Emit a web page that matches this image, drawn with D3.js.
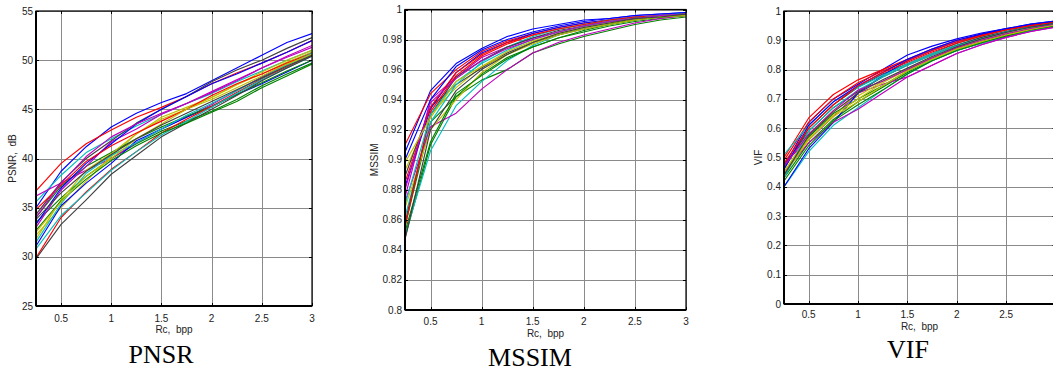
<!DOCTYPE html>
<html>
<head>
<meta charset="utf-8">
<script src="https://cdn.jsdelivr.net/npm/d3@7"></script>
<style>
  html, body { margin: 0; padding: 0; background: #fff; }
  svg { display: block; }
  .tick-label { font-family: "Liberation Sans Narrow", "Arial Narrow", "Liberation Sans", Arial, sans-serif; font-size: 10px; fill: #222; }
  .axis-label { font-family: "Liberation Sans Narrow", "Arial Narrow", "Liberation Sans", Arial, sans-serif; font-size: 10px; fill: #222; }
  .title { font-family: "Liberation Serif", "Times New Roman", serif; font-size: 26px; fill: #000; }
</style>
</head>
<body>
<div id="chart"></div>
<script>
// ---------- data ----------
const rates = [0.25, 0.5, 0.75, 1, 1.25, 1.5, 1.75, 2, 2.25, 2.5, 2.75, 3];
const seriesColors = ["#0000ff", "#008000", "#ff0000", "#00bfbf", "#bf00bf", "#bfbf00", "#404040"];

const xTicks = [0.5, 1, 1.5, 2, 2.5, 3];
const psnrTicks = [25, 30, 35, 40, 45, 50, 55];
const mssimTicks = [0.8, 0.82, 0.84, 0.86, 0.88, 0.9, 0.92, 0.94, 0.96, 0.98, 1];
const vifTicks = [0, 0.1, 0.2, 0.3, 0.4, 0.5, 0.6, 0.7, 0.8, 0.9, 1];

const psnrSeries = [
  [35.0, 38.7, 41.2, 43.2, 44.6, 45.7, 46.6, 47.9, 49.2, 50.5, 51.8, 52.7],
  [33.5, 36.0, 38.2, 40.0, 41.5, 42.8, 43.8, 44.8, 46.0, 47.4, 48.6, 49.7],
  [36.7, 39.5, 41.5, 42.9, 44.2, 45.2, 46.3, 47.6, 48.7, 49.7, 50.8, 52.0],
  [35.6, 38.3, 40.6, 42.0, 43.3, 44.5, 45.6, 46.6, 47.8, 48.9, 50.0, 51.0],
  [36.2, 37.5, 38.8, 40.0, 41.6, 43.0, 44.2, 45.5, 46.9, 48.3, 49.6, 50.8],
  [32.2, 35.0, 37.7, 40.2, 42.5, 44.0, 45.0, 46.2, 47.5, 48.6, 49.8, 50.8],
  [34.3, 37.6, 40.0, 41.8, 43.6, 45.0, 46.3, 47.8, 49.0, 50.0, 51.2, 52.3],
  [31.1, 35.2, 37.5, 39.5, 41.8, 43.0, 44.2, 45.3, 46.5, 47.6, 48.8, 50.0],
  [34.0, 37.2, 39.2, 40.6, 42.0, 43.2, 44.3, 45.3, 46.5, 47.7, 48.9, 50.0],
  [29.9, 34.0, 36.6, 38.9, 40.7, 42.6, 44.0, 45.3, 46.7, 48.1, 49.3, 50.5],
  [30.8, 34.2, 36.5, 38.8, 40.7, 42.4, 43.8, 45.2, 46.6, 48.0, 49.2, 50.4],
  [33.0, 36.8, 39.2, 41.7, 43.0, 44.5, 45.6, 46.8, 48.0, 49.2, 50.4, 51.5],
  [31.8, 35.8, 38.8, 40.5, 42.5, 44.2, 45.2, 46.2, 47.5, 48.8, 50.0, 51.0],
  [29.8, 33.3, 35.8, 38.4, 40.3, 42.2, 43.6, 45.0, 46.4, 47.9, 49.2, 50.4],
  [33.3, 37.0, 39.5, 41.5, 43.5, 45.0, 46.3, 47.6, 48.6, 49.7, 50.8, 52.0],
  [32.7, 35.7, 37.9, 39.8, 41.3, 42.6, 43.6, 44.7, 45.8, 47.2, 48.4, 49.6],
  [34.8, 37.3, 39.7, 41.3, 42.6, 43.8, 45.0, 46.4, 47.6, 48.6, 49.7, 50.7],
  [31.5, 35.4, 38.5, 40.3, 41.6, 43.0, 44.4, 45.6, 46.9, 48.2, 49.5, 50.7],
  [34.0, 37.5, 40.2, 42.2, 43.5, 44.6, 45.6, 46.7, 47.9, 49.2, 50.3, 51.3],
  [32.5, 35.6, 38.2, 40.0, 42.0, 43.5, 45.0, 46.0, 47.2, 48.4, 49.6, 50.6],
  [33.8, 36.5, 38.7, 40.4, 42.0, 43.4, 44.6, 45.8, 47.0, 48.2, 49.4, 50.5]
];

const mssimSeries = [
  [0.905, 0.946, 0.964, 0.974, 0.982, 0.987, 0.990, 0.993, 0.994, 0.996, 0.997, 0.998],
  [0.848, 0.910, 0.942, 0.953, 0.960, 0.971, 0.977, 0.982, 0.986, 0.990, 0.993, 0.995],
  [0.910, 0.944, 0.960, 0.972, 0.979, 0.984, 0.988, 0.991, 0.993, 0.995, 0.996, 0.997],
  [0.850, 0.906, 0.936, 0.952, 0.966, 0.976, 0.983, 0.988, 0.991, 0.994, 0.996, 0.997],
  [0.875, 0.940, 0.955, 0.968, 0.975, 0.981, 0.985, 0.989, 0.992, 0.994, 0.996, 0.997],
  [0.893, 0.930, 0.948, 0.962, 0.972, 0.979, 0.984, 0.988, 0.991, 0.994, 0.995, 0.996],
  [0.889, 0.935, 0.950, 0.961, 0.971, 0.978, 0.983, 0.987, 0.990, 0.993, 0.995, 0.996],
  [0.882, 0.934, 0.958, 0.971, 0.978, 0.984, 0.988, 0.991, 0.993, 0.995, 0.996, 0.998],
  [0.856, 0.925, 0.942, 0.957, 0.968, 0.975, 0.981, 0.985, 0.989, 0.992, 0.994, 0.996],
  [0.885, 0.935, 0.958, 0.970, 0.978, 0.983, 0.987, 0.990, 0.992, 0.994, 0.996, 0.997],
  [0.862, 0.925, 0.950, 0.965, 0.975, 0.982, 0.987, 0.990, 0.993, 0.995, 0.996, 0.998],
  [0.872, 0.922, 0.931, 0.947, 0.960, 0.971, 0.978, 0.983, 0.987, 0.991, 0.994, 0.996],
  [0.868, 0.920, 0.940, 0.958, 0.970, 0.978, 0.984, 0.988, 0.991, 0.993, 0.995, 0.996],
  [0.858, 0.930, 0.955, 0.966, 0.975, 0.981, 0.986, 0.989, 0.992, 0.994, 0.996, 0.997],
  [0.900, 0.940, 0.962, 0.973, 0.980, 0.985, 0.989, 0.992, 0.994, 0.996, 0.997, 0.998],
  [0.852, 0.912, 0.944, 0.956, 0.967, 0.975, 0.981, 0.986, 0.990, 0.993, 0.995, 0.996],
  [0.855, 0.932, 0.956, 0.969, 0.977, 0.983, 0.987, 0.990, 0.993, 0.995, 0.996, 0.997],
  [0.870, 0.930, 0.952, 0.964, 0.973, 0.980, 0.985, 0.989, 0.992, 0.994, 0.996, 0.997],
  [0.880, 0.938, 0.954, 0.966, 0.974, 0.980, 0.985, 0.989, 0.992, 0.994, 0.996, 0.997],
  [0.898, 0.928, 0.952, 0.962, 0.970, 0.977, 0.983, 0.987, 0.990, 0.993, 0.995, 0.996],
  [0.847, 0.920, 0.946, 0.960, 0.970, 0.978, 0.984, 0.988, 0.991, 0.994, 0.995, 0.997]
];

const vifSeries = [
  [0.47, 0.62, 0.70, 0.75, 0.80, 0.85, 0.88, 0.905, 0.925, 0.94, 0.955, 0.966],
  [0.43, 0.55, 0.63, 0.69, 0.74, 0.79, 0.83, 0.865, 0.89, 0.915, 0.935, 0.95],
  [0.50, 0.635, 0.715, 0.765, 0.80, 0.835, 0.87, 0.90, 0.92, 0.938, 0.952, 0.963],
  [0.40, 0.52, 0.61, 0.67, 0.73, 0.785, 0.83, 0.865, 0.89, 0.912, 0.932, 0.948],
  [0.48, 0.56, 0.64, 0.72, 0.75, 0.775, 0.815, 0.855, 0.885, 0.91, 0.93, 0.945],
  [0.45, 0.58, 0.66, 0.71, 0.76, 0.80, 0.84, 0.875, 0.90, 0.922, 0.94, 0.955],
  [0.46, 0.60, 0.68, 0.74, 0.785, 0.82, 0.855, 0.89, 0.915, 0.935, 0.95, 0.962],
  [0.40, 0.53, 0.62, 0.72, 0.78, 0.83, 0.865, 0.895, 0.92, 0.938, 0.953, 0.964],
  [0.44, 0.57, 0.65, 0.70, 0.745, 0.795, 0.835, 0.87, 0.895, 0.92, 0.94, 0.954],
  [0.49, 0.62, 0.70, 0.755, 0.795, 0.83, 0.865, 0.895, 0.918, 0.937, 0.951, 0.962],
  [0.51, 0.61, 0.69, 0.74, 0.78, 0.82, 0.855, 0.885, 0.91, 0.93, 0.947, 0.958],
  [0.45, 0.55, 0.62, 0.665, 0.72, 0.775, 0.815, 0.855, 0.885, 0.91, 0.93, 0.946],
  [0.44, 0.56, 0.645, 0.70, 0.755, 0.80, 0.84, 0.875, 0.90, 0.922, 0.94, 0.953],
  [0.47, 0.59, 0.67, 0.725, 0.775, 0.815, 0.85, 0.882, 0.91, 0.93, 0.947, 0.96],
  [0.46, 0.61, 0.69, 0.745, 0.79, 0.835, 0.87, 0.90, 0.922, 0.94, 0.955, 0.966],
  [0.42, 0.54, 0.625, 0.68, 0.73, 0.785, 0.83, 0.865, 0.892, 0.915, 0.935, 0.95],
  [0.48, 0.60, 0.68, 0.745, 0.79, 0.825, 0.86, 0.89, 0.915, 0.935, 0.95, 0.961],
  [0.43, 0.59, 0.67, 0.73, 0.775, 0.815, 0.85, 0.88, 0.905, 0.928, 0.945, 0.957],
  [0.47, 0.58, 0.66, 0.73, 0.76, 0.80, 0.84, 0.875, 0.90, 0.922, 0.94, 0.954],
  [0.45, 0.565, 0.64, 0.69, 0.745, 0.795, 0.835, 0.87, 0.895, 0.918, 0.937, 0.952],
  [0.44, 0.575, 0.655, 0.72, 0.765, 0.805, 0.845, 0.878, 0.905, 0.927, 0.945, 0.958]
];

// ---------- layout ----------
const W = 1053, H = 374;
const svg = d3.select("#chart").append("svg").attr("width", W).attr("height", H);

const panels = [
  { id: "p1", left: 36, top: 11, right: 312, bottom: 306, yDomain: [25, 55], yTicks: psnrTicks,
    data: psnrSeries, yLabel: "PSNR,  dB", yLabelX: 16, title: "PNSR", titleX: 161, titleY: 363,
    tickY: 322, xLabelY: 333 },
  { id: "p2", left: 405, top: 9.5, right: 686, bottom: 310, yDomain: [0.8, 1], yTicks: mssimTicks,
    data: mssimSeries, yLabel: "MSSIM", yLabelX: 378, title: "MSSIM", titleX: 530, titleY: 366,
    tickY: 325, xLabelY: 337 },
  { id: "p3", left: 784, top: 11, right: 1055.5, bottom: 304, yDomain: [0, 1], yTicks: vifTicks,
    data: vifSeries, yLabel: "VIF", yLabelX: 762, title: "VIF", titleX: 908, titleY: 358,
    tickY: 318, xLabelY: 330 }
];

panels.forEach(p => {
  const x = d3.scaleLinear().domain([0.25, 3]).range([p.left, p.right]);
  const y = d3.scaleLinear().domain(p.yDomain).range([p.bottom, p.top]);
  const g = svg.append("g");

  g.append("clipPath").attr("id", "clip-" + p.id)
    .append("rect").attr("x", p.left).attr("y", p.top)
    .attr("width", p.right - p.left).attr("height", p.bottom - p.top);

  // grid
  const grid = g.append("g").attr("stroke", "#8a8a8a").attr("stroke-width", 1);
  xTicks.forEach(t => {
    const xx = Math.round(x(t)) + 0.5;
    grid.append("line").attr("x1", xx).attr("x2", xx).attr("y1", p.top).attr("y2", p.bottom);
  });
  p.yTicks.forEach(t => {
    const yy = Math.round(y(t)) + 0.5;
    grid.append("line").attr("x1", p.left).attr("x2", p.right).attr("y1", yy).attr("y2", yy);
  });

  // lines
  const line = d3.line().x((d, i) => x(rates[i])).y(d => y(d));
  g.append("g").attr("clip-path", "url(#clip-" + p.id + ")")
    .selectAll("path").data(p.data).enter().append("path")
    .attr("d", d => line(d))
    .attr("fill", "none")
    .attr("stroke", (d, i) => seriesColors[i % seriesColors.length])
    .attr("stroke-width", 1.15)
    .attr("stroke-linejoin", "round");

  // frame
  g.append("rect").attr("x", p.left).attr("y", p.top)
    .attr("width", p.right - p.left).attr("height", p.bottom - p.top)
    .attr("fill", "none").attr("stroke", "#000").attr("stroke-width", 1.2);
  g.append("line").attr("x1", p.left).attr("x2", p.left).attr("y1", p.top).attr("y2", p.bottom)
    .attr("stroke", "#000").attr("stroke-width", 2);
  g.append("line").attr("x1", p.left).attr("x2", p.right).attr("y1", p.bottom).attr("y2", p.bottom)
    .attr("stroke", "#000").attr("stroke-width", 2);

  // inward ticks
  const tk = g.append("g").attr("stroke", "#000").attr("stroke-width", 1);
  xTicks.forEach(t => {
    const xx = Math.round(x(t)) + 0.5;
    tk.append("line").attr("x1", xx).attr("x2", xx).attr("y1", p.bottom).attr("y2", p.bottom - 3);
    tk.append("line").attr("x1", xx).attr("x2", xx).attr("y1", p.top).attr("y2", p.top + 3);
  });
  p.yTicks.forEach(t => {
    const yy = Math.round(y(t)) + 0.5;
    tk.append("line").attr("x1", p.left).attr("x2", p.left + 3).attr("y1", yy).attr("y2", yy);
    tk.append("line").attr("x1", p.right).attr("x2", p.right - 3).attr("y1", yy).attr("y2", yy);
  });

  // tick labels (only those that fall inside the picture)
  xTicks.filter(t => x(t) + 4 < W).forEach(t => {
    g.append("text").attr("class", "tick-label").attr("x", x(t)).attr("y", p.tickY)
      .attr("text-anchor", "middle").text(String(t));
  });
  p.yTicks.forEach(t => {
    g.append("text").attr("class", "tick-label").attr("x", p.left - 3).attr("y", y(t) + 3.5)
      .attr("text-anchor", "end").text(String(t));
  });

  // axis labels
  g.append("text").attr("class", "axis-label").attr("x", (p.left + Math.min(p.right, 1055)) / 2)
    .attr("y", p.xLabelY).attr("text-anchor", "middle")
    .style("white-space", "pre").text("Rc,  bpp");
  g.append("text").attr("class", "axis-label")
    .attr("transform", `translate(${p.yLabelX},${(p.top + p.bottom) / 2}) rotate(-90)`)
    .attr("text-anchor", "middle").style("white-space", "pre").text(p.yLabel);

  // title
  g.append("text").attr("class", "title").attr("x", p.titleX).attr("y", p.titleY)
    .attr("text-anchor", "middle").text(p.title);
});
</script>
</body>
</html>
